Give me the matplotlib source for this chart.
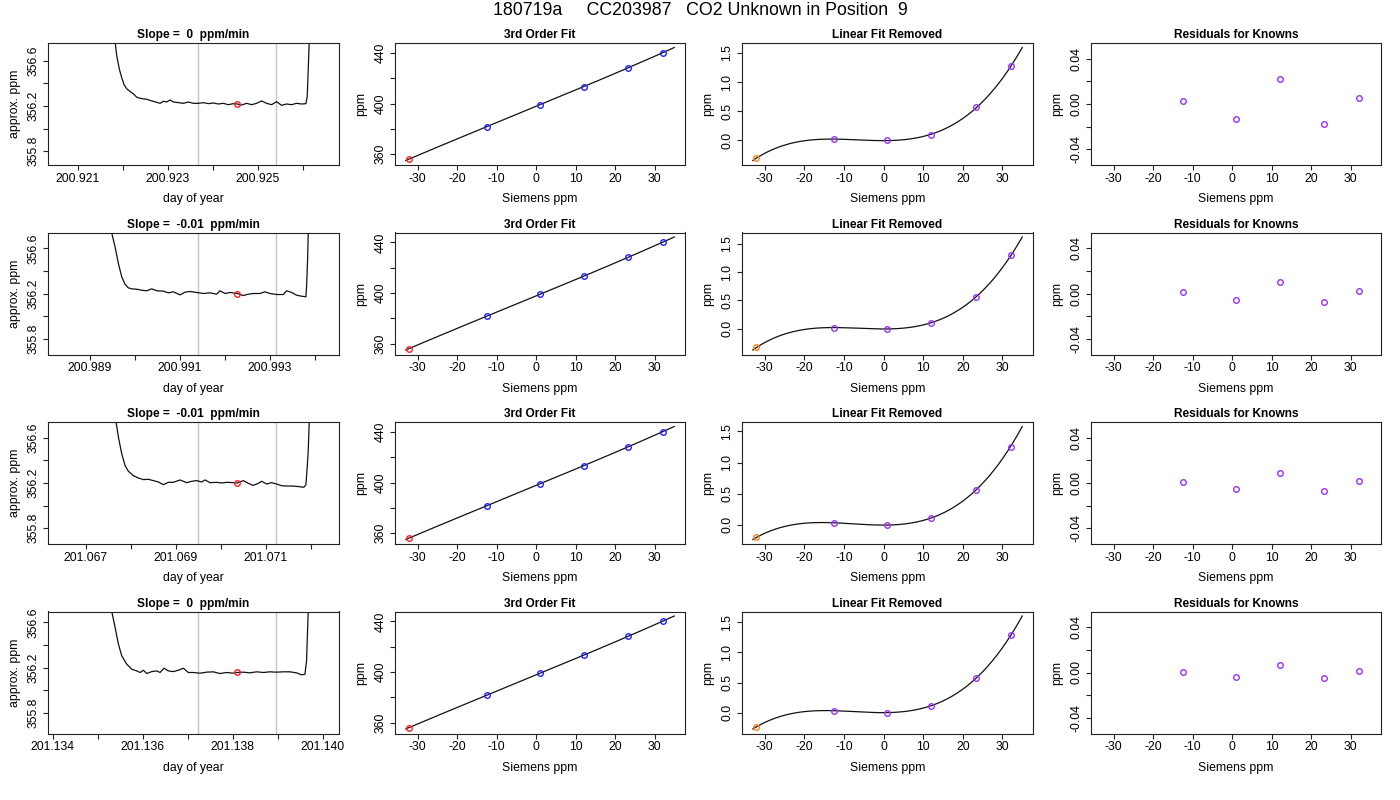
import numpy as np
import matplotlib
matplotlib.use("Agg")
import matplotlib.pyplot as plt

plt.rcParams['font.family'] = ['Liberation Sans', 'DejaVu Sans']

main_title = "180719a     CC203987   CO2 Unknown in Position  9"

# ---------------- time series (seconds after first sample, approx. ppm) -------------
ts_start_day = [200.920578, 200.988307, 201.066398, 201.134133]

ts_sec_1 = [0, 98.6, 108.2, 111.4, 116.5, 121.0, 125.4, 130.6, 137.0, 143.4,
            149.8, 156.2, 162.6, 169.0, 178.6, 188.2, 194.6, 201.0, 207.4, 213.8,
            220.2, 229.8, 239.4, 249.0, 258.6, 268.2, 277.8, 287.4, 297.0, 306.6,
            316.2, 325.8, 335.4, 343.0, 351.4, 361.0, 370.6, 380.2, 389.8, 399.4,
            409.0, 418.6, 428.2, 437.8, 447.4, 457.0, 466.6, 474.9, 477.4, 479.4,
            481.3, 517.8]
ts_ppm_1 = [360.0, 357.4, 356.77, 356.645, 356.525, 356.45, 356.39, 356.353, 356.329, 356.308,
            356.278, 356.269, 356.263, 356.26, 356.245, 356.233, 356.224, 356.242, 356.236, 356.254,
            356.236, 356.23, 356.224, 356.236, 356.224, 356.224, 356.23, 356.221, 356.227, 356.218,
            356.224, 356.212, 356.221, 356.218, 356.209, 356.224, 356.212, 356.224, 356.245, 356.224,
            356.212, 356.239, 356.206, 356.218, 356.212, 356.224, 356.218, 356.221, 356.284, 356.525,
            356.77, 360.0]

ts_sec_2 = [0, 90.0, 101.8, 108.2, 114.6, 121.0, 127.4, 133.8, 140.2, 149.8,
            159.4, 169.0, 178.6, 188.2, 201.0, 210.6, 220.2, 233.0, 242.6, 252.2,
            265.0, 277.8, 290.6, 303.4, 309.8, 319.4, 329.0, 343.0, 354.6, 364.2,
            373.8, 386.6, 396.2, 405.8, 418.6, 431.4, 437.8, 447.4, 457.0, 466.6,
            474.9, 476.2, 478.1, 479.4, 517.8]
ts_ppm_2 = [360.0, 357.4, 356.735, 356.612, 356.465, 356.347, 356.282, 356.25, 356.241, 356.238,
            356.229, 356.224, 356.241, 356.224, 356.221, 356.206, 356.215, 356.188, 356.212, 356.218,
            356.209, 356.2, 356.206, 356.194, 356.224, 356.2, 356.209, 356.2, 356.182, 356.194,
            356.2, 356.2, 356.215, 356.2, 356.191, 356.191, 356.224, 356.209, 356.185, 356.176,
            356.171, 356.259, 356.494, 356.735, 360.0]

ts_sec_3 = [0, 96.0, 110.1, 114.6, 121.0, 127.4, 133.8, 143.4, 153.0, 162.6,
            172.2, 181.8, 191.4, 201.0, 210.6, 220.2, 233.0, 245.8, 255.4, 265.0,
            274.6, 281.0, 290.6, 303.4, 313.0, 322.6, 335.4, 343.0, 354.6, 364.2,
            373.8, 383.4, 389.8, 399.4, 409.0, 418.6, 428.2, 437.8, 450.6, 463.4,
            471.0, 474.9, 477.4, 479.4, 481.3, 517.8]
ts_ppm_3 = [360.0, 357.4, 356.74, 356.606, 356.458, 356.354, 356.304, 356.265, 356.244, 356.23,
            356.233, 356.221, 356.209, 356.185, 356.206, 356.206, 356.227, 356.203, 356.215, 356.221,
            356.209, 356.227, 356.203, 356.206, 356.2, 356.206, 356.203, 356.2, 356.221, 356.197,
            356.179, 356.197, 356.215, 356.191, 356.203, 356.191, 356.176, 356.173, 356.173, 356.167,
            356.162, 356.185, 356.339, 356.487, 356.739, 360.0]

ts_sec_4 = [0, 90.0, 101.8, 108.2, 114.6, 121.0, 130.6, 140.2, 149.8, 156.2,
            162.6, 169.0, 178.6, 188.2, 194.6, 202.2, 210.6, 220.2, 229.8, 239.4,
            249.0, 258.6, 271.4, 284.2, 297.0, 309.8, 322.6, 335.4, 343.0, 354.6,
            367.4, 380.2, 393.0, 405.8, 418.6, 431.4, 444.2, 457.0, 466.6, 473.0,
            476.2, 477.4, 479.4, 517.8]
ts_ppm_4 = [360.0, 357.4, 356.697, 356.555, 356.407, 356.304, 356.23, 356.185, 356.17, 356.156,
            356.176, 356.147, 356.164, 356.17, 356.156, 356.194, 356.17, 356.164, 356.176, 356.194,
            356.156, 356.156, 356.15, 356.159, 356.162, 356.147, 356.156, 356.15, 356.156, 356.159,
            356.153, 356.162, 356.156, 356.162, 356.159, 356.162, 356.162, 356.153, 356.135, 356.141,
            356.259, 356.437, 356.697, 360.0]

window_sec = [268.2, 417.3]          # averaging window (gray lines)
mean_sec = 343.0                      # red point time
mean_ppm = [356.218, 356.200, 356.200, 356.156]
slope_text = ["0", "-0.01", "-0.01", "0"]

# ---------------- calibration ----------------
siemens_known = [-12.5, 0.95, 12.1, 23.35, 32.1]
siemens_unknown = -32.2
lin_intercept = 397.71
lin_slope = 1.285
curve_span = [-33, 35]

# linear-fit-removed values of the knowns
linfit_removed_1 = [0.020, 0.010, 0.090, 0.570, 1.270]
linfit_removed_2 = [0.020, 0.000, 0.105, 0.560, 1.300]
linfit_removed_3 = [0.032, 0.000, 0.106, 0.567, 1.256]
linfit_removed_4 = [0.038, 0.005, 0.115, 0.580, 1.280]
# linear-fit-removed value of the unknown
unknown_removed = [-0.30, -0.33, -0.20, -0.23]
# fitted curve (linear removed) at the two ends of curve_span
curve_end_values_1 = [-0.35, 1.59]
curve_end_values_2 = [-0.38, 1.61]
curve_end_values_3 = [-0.24, 1.58]
curve_end_values_4 = [-0.27, 1.60]

resid_1 = [0.0024, -0.0135, 0.0224, -0.0176, 0.0053]
resid_2 = [0.0015, -0.0059, 0.0105, -0.0079, 0.0026]
resid_3 = [0.0009, -0.0056, 0.0088, -0.0070, 0.0020]
resid_4 = [0.0006, -0.0041, 0.0064, -0.0053, 0.0015]

ts_sec = [ts_sec_1, ts_sec_2, ts_sec_3, ts_sec_4]
ts_ppm = [ts_ppm_1, ts_ppm_2, ts_ppm_3, ts_ppm_4]
linfit_removed = [linfit_removed_1, linfit_removed_2, linfit_removed_3, linfit_removed_4]
curve_end_values = [curve_end_values_1, curve_end_values_2, curve_end_values_3, curve_end_values_4]
resids = [resid_1, resid_2, resid_3, resid_4]

# ---------------- layout ----------------
W, H = 1400, 800
fig = plt.figure(figsize=(14, 8), dpi=100)
col_l = [48, 395, 742, 1091]
col_r = [339, 685, 1033, 1381]
row_t = [43, 232.5, 422, 611.5]
row_h = 122

PURPLE = '#9B30FF'
TICK_FS = 8.8
LAB_FS = 8.8
TITLE_FS = 8.6


def make_ax(r, c):
    l, rr = col_l[c], col_r[c]
    t = row_t[r]
    ax = fig.add_axes([l / W, 1 - (t + row_h) / H, (rr - l) / W, row_h / H])
    for s in ax.spines.values():
        s.set_linewidth(0.8)
        s.set_color('#222222')
    ax.tick_params(direction='out', length=3.6, width=0.8, labelsize=TICK_FS,
                   color='#222222', pad=2)
    ax.tick_params(axis='y', labelrotation=90, pad=2.5)
    return ax


def ticks_in(lo, hi, step):
    k0 = int(np.ceil(lo / step - 1e-9))
    k1 = int(np.floor(hi / step + 1e-9))
    return [k * step for k in range(k0, k1 + 1)]


def set_ticks(ax, axis, lo, hi, step, fmt, every=1):
    t = ticks_in(lo, hi, step)
    labs = [(fmt % v) if (i % every == 0) else '' for i, v in enumerate(t)]
    labs = ['0.00' if s == '-0.00' else s for s in labs]
    if axis == 'x':
        ax.set_xticks(t)
        ax.set_xticklabels(labs)
    else:
        ax.set_yticks(t)
        ax.set_yticklabels(labs, va='center')


def finish(ax, title, xlabel, ylabel):
    ax.set_title(title, fontsize=TITLE_FS, fontweight='bold', pad=3.5)
    ax.set_xlabel(xlabel, fontsize=LAB_FS, labelpad=6)
    ax.set_ylabel(ylabel, fontsize=LAB_FS, labelpad=5)


def pad(lo, hi):
    s = hi - lo
    return lo - 0.04 * s, hi + 0.04 * s


xc = np.linspace(curve_span[0], curve_span[1], 300)
xk = np.array(siemens_known)

for r in range(4):
    # ---- time series ----
    ax = make_ax(r, 0)
    d0 = ts_start_day[r]
    days = d0 + np.array(ts_sec[r]) / 86400.0
    ax.plot(days, ts_ppm[r], color='#111111', lw=0.9)
    for ws in window_sec:
        ax.axvline(d0 + ws / 86400.0, color='#C4C4C4', lw=1.0, zorder=0)
    ax.plot([d0 + mean_sec / 86400.0], [mean_ppm[r]], 'o', mfc='none', mec='#FF2020',
            ms=4, mew=1.0)
    xlo, xhi = pad(days.min(), days.max())
    ax.set_xlim(xlo, xhi)
    ylo, yhi = mean_ppm[r] - 0.5 * 1.08, mean_ppm[r] + 0.5 * 1.08
    ax.set_ylim(ylo, yhi)
    set_ticks(ax, 'x', xlo, xhi, 0.001, '%.3f', every=2)
    set_ticks(ax, 'y', ylo, yhi, 0.2, '%.1f', every=2)
    finish(ax, "Slope =  %s  ppm/min" % slope_text[r], "day of year", "approx. ppm")

    # ---- cubic curve: least-squares cubic through the values read on the curve ----
    L = np.array(linfit_removed[r])
    Lu = unknown_removed[r]
    fx = np.concatenate([[curve_span[0], siemens_unknown], xk, [curve_span[1]]])
    fy = np.concatenate([[curve_end_values[r][0], Lu], L, [curve_end_values[r][1]]])
    coef = np.polyfit(fx, fy, 3)
    Lc = np.polyval(coef, xc)
    yk = lin_intercept + lin_slope * xk + L
    yc = lin_intercept + lin_slope * xc + Lc
    yu = lin_intercept + lin_slope * siemens_unknown + Lu

    xlo, xhi = pad(curve_span[0], curve_span[1])

    # ---- 3rd order fit ----
    ax = make_ax(r, 1)
    ax.plot(xc, yc, color='#111111', lw=0.9)
    ax.plot(xk, yk, 'o', mfc='none', mec='#2020FF', ms=4, mew=1.0)
    ax.plot([siemens_unknown], [yu], 'o', mfc='none', mec='#FF2020', ms=4, mew=1.0)
    ax.set_xlim(xlo, xhi)
    lo, hi = pad(min(yc.min(), yu), max(yc.max(), yk.max()))
    ax.set_ylim(lo, hi)
    set_ticks(ax, 'x', xlo, xhi, 10, '%d')
    set_ticks(ax, 'y', lo, hi, 20, '%d', every=2)
    finish(ax, "3rd Order Fit", "Siemens ppm", "ppm")

    # ---- linear fit removed ----
    ax = make_ax(r, 2)
    ax.plot(xc, Lc, color='#111111', lw=0.9)
    ax.plot(xk, L, 'o', mfc='none', mec=PURPLE, ms=4, mew=1.0)
    ax.plot([siemens_unknown], [Lu], 'o', mfc='none', mec='#FF8020', ms=4, mew=1.0)
    ax.set_xlim(xlo, xhi)
    lo, hi = pad(min(Lc.min(), Lu), max(Lc.max(), L.max()))
    ax.set_ylim(lo, hi)
    set_ticks(ax, 'x', xlo, xhi, 10, '%d')
    set_ticks(ax, 'y', lo, hi, 0.5, '%.1f')
    finish(ax, "Linear Fit Removed", "Siemens ppm", "ppm")

    # ---- residuals ----
    ax = make_ax(r, 3)
    ax.plot(xk, resids[r], 'o', mfc='none', mec=PURPLE, ms=4, mew=1.0)
    ax.set_xlim(xlo, xhi)
    lo, hi = -0.05 * 1.08, 0.05 * 1.08
    ax.set_ylim(lo, hi)
    set_ticks(ax, 'x', xlo, xhi, 10, '%d')
    set_ticks(ax, 'y', lo, hi, 0.02, '%.2f', every=2)
    finish(ax, "Residuals for Knowns", "Siemens ppm", "ppm")

fig.text(0.5, 1 - 10.5 / H, main_title, ha='center', va='center', fontsize=12.8)

fig.savefig("out.png", dpi=100)
